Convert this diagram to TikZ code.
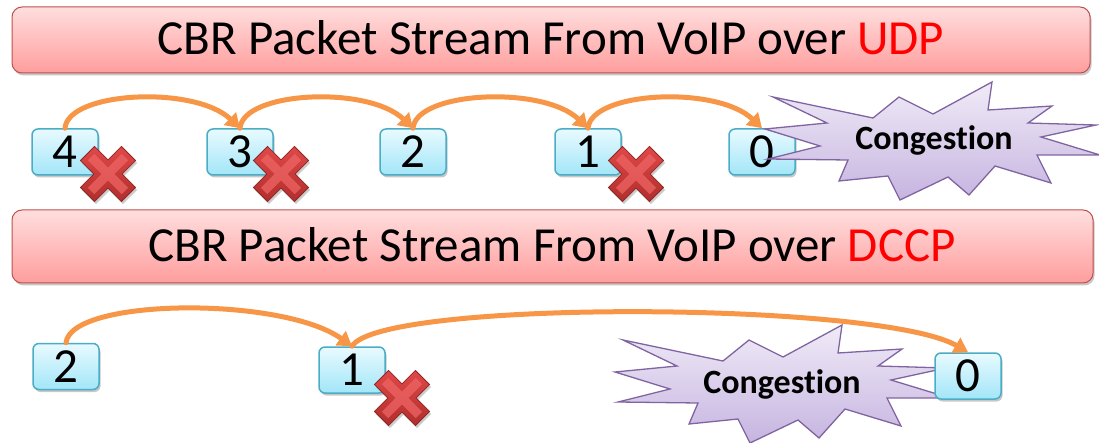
\documentclass[tikz,border=0pt]{standalone}
\usepackage{fontspec}
\setmainfont{Carlito}[Ligatures=NoCommon]
\usetikzlibrary{arrows.meta,shadows}

\definecolor{flowor}{HTML}{F79646}
\definecolor{titletop}{HTML}{FFDEDE}
\definecolor{titlebot}{HTML}{FF9D9D}
\definecolor{titleline}{HTML}{C0504D}
\definecolor{boxtop}{HTML}{E8FAFF}
\definecolor{boxbot}{HTML}{A2E6F8}
\definecolor{boxline}{HTML}{4BACC6}
\definecolor{bursttop}{HTML}{F0EBF7}
\definecolor{burstbot}{HTML}{C6B4E0}
\definecolor{burstline}{HTML}{8064A2}
\definecolor{protored}{HTML}{FF0000}
\definecolor{xdark}{HTML}{8E2624}
\definecolor{xtop}{HTML}{E04848}
\definecolor{xbot}{HTML}{B02E2C}
\definecolor{xlight}{HTML}{EE6464}

\tikzset{
  softshadow/.style={drop shadow={shadow xshift=1.5pt,shadow yshift=-2.5pt,fill=black,opacity=0.22}},
  titlebar/.style={draw=titleline, line width=1pt, rounded corners=10pt,
    top color=titletop, bottom color=titlebot, softshadow},
  titletext/.style={font=\fontsize{49}{49}\selectfont, inner sep=0pt},
  numbox/.style={draw=boxline, line width=1.5pt, rounded corners=6pt,
    top color=boxtop, bottom color=boxbot, minimum width=66pt, minimum height=46pt,
    inner sep=0pt, font=\fontsize{49}{49}\selectfont, softshadow},
  burst/.style={draw=burstline, line width=1.3pt, top color=bursttop, bottom color=burstbot,
    line join=miter},
  bursttext/.style={font=\fontsize{34}{34}\selectfont\bfseries, inner sep=0pt},
  flow/.style={draw=flowor, line width=5pt, line cap=round,
    -{Triangle[length=14pt,width=17pt]}},
  redx/.pic={
    \fill[black, opacity=0.2, shift={(1.5,2.5)}, rotate=45]
      (-10,-29) -- (10,-29) -- (10,-10) -- (29,-10) -- (29,10) -- (10,10) --
      (10,29) -- (-10,29) -- (-10,10) -- (-29,10) -- (-29,-10) -- (-10,-10) -- cycle;
    \draw[draw=xdark, line width=0.8pt, top color=xtop, bottom color=xbot, rotate=45]
      (-10,-29) -- (10,-29) -- (10,-10) -- (29,-10) -- (29,10) -- (10,10) --
      (10,29) -- (-10,29) -- (-10,10) -- (-29,10) -- (-29,-10) -- (-10,-10) -- cycle;
    \fill[xlight, opacity=0.75, rotate=45]
      (-4.5,-24) -- (4.5,-24) -- (4.5,-4.5) -- (24,-4.5) -- (24,4.5) -- (4.5,4.5) --
      (4.5,24) -- (-4.5,24) -- (-4.5,4.5) -- (-24,4.5) -- (-24,-4.5) -- (-4.5,-4.5) -- cycle;
  }
}

% outline of the explosion shape, centred on its label
\newcommand{\burstpath}{(-160,-42) -- (-60,-21) -- (-34,-42) -- (0,-25) -- (59,-57) -- (55,-29) --
  (119,-33) -- (95,-16) -- (163,-14) -- (108,-2) -- (167,16) -- (104,16) --
  (118,44) -- (62,27) -- (36,56) -- (15,38) -- (-33,61) -- (-45,37) --
  (-94,42) -- (-85,21) -- (-165,20) -- (-113,7) -- (-168,-10) -- (-106,-16) -- cycle}

\begin{document}
\begin{tikzpicture}[x=1pt,y=-1pt]
\useasboundingbox (0,0) rectangle (1099,443);

% ---------- UDP ----------
\node[titlebar, minimum width=1078pt, minimum height=66pt] (udpbar) at (551,40) {};
\node[titletext, anchor=base] (udptitle) at (551,55)
  {CBR Packet Stream From VoIP over \textcolor{protored}{UDP}};

\node[numbox] (u4) at (65,152) {4};
\node[numbox] (u3) at (240,152) {3};
\node[numbox] (u2) at (413,152) {2};
\node[numbox] (u1) at (588,152) {1};
\node[numbox] (u0) at (762,152) {0};

\pic at (108,174) {redx};
\pic at (281,174) {redx};
\pic at (636,174) {redx};

\draw[burst, shift={(933,139)}] \burstpath;
\node[bursttext, anchor=base] (ucong) at (934,150) {Congestion};

\draw[flow] (u4.north) .. controls +(3,-37) and +(-45,-43) .. (u3.north);
\draw[flow] (u3.north) .. controls +(3,-37) and +(-45,-43) .. (u2.north);
\draw[flow] (u2.north) .. controls +(3,-37) and +(-45,-43) .. (u1.north);
\draw[flow] (u1.north) .. controls +(3,-37) and +(-45,-43) .. (u0.north);

% ---------- DCCP ----------
\node[titlebar, minimum width=1081pt, minimum height=73pt] (dccpbar) at (552.5,246.5) {};
\node[titletext, anchor=base] (dccptitle) at (552,262)
  {CBR Packet Stream From VoIP over \textcolor{protored}{DCCP}};

\draw[burst, shift={(783,382)}] \burstpath;
\node[bursttext, anchor=base] (dcong) at (782,393) {Congestion};

\node[numbox] (d2) at (66,366.5) {2};
\node[numbox] (d1) at (352,370) {1};
\node[numbox] (d0) at (968,376) {0};

\pic at (402,398) {redx};

\draw[flow] (d2.north) .. controls +(5,-45) and +(-70,-50) .. (d1.north);
\draw[flow] (d1.north) .. controls +(28,-47) and +(-88,-51) .. (d0.north);
\end{tikzpicture}
\end{document}
